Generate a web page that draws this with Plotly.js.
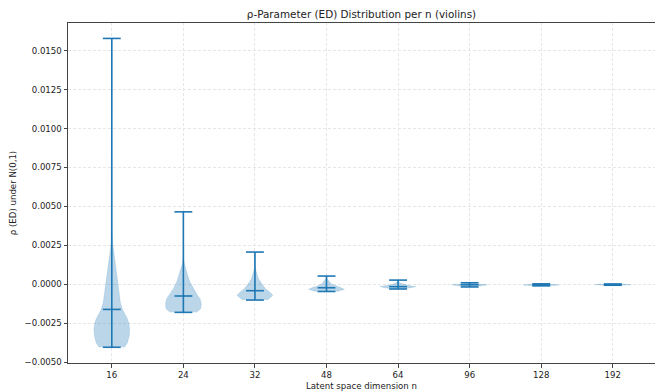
<!DOCTYPE html>
<html>
<head>
<meta charset="utf-8">
<script src="https://cdn.plot.ly/plotly-3.0.1.min.js"></script>
<style>html,body{margin:0;padding:0;background:#fff;}#chart{width:655px;height:392px;}</style>
</head>
<body>
<div id="chart"></div>
<script>
// Categories (latent space dimension n)
const categories = ["16", "24", "32", "48", "64", "96", "128", "192"];

// Summary statistics per n
const minVals    = [-0.00404, -0.00180, -0.00101, -0.00046, -0.00030, -0.00017, -0.00010, -0.00006];
const maxVals    = [ 0.01578,  0.00465,  0.00207,  0.00053,  0.00027,  0.00010,  0.00003,  0.00002];
const medianVals = [-0.00161, -0.00075, -0.00041, -0.00022, -0.00015, -0.00003, -0.00003, -0.00002];

// Density profiles (levels and relative density, peak = 1)
const levels16 = [-0.00404, -0.00374, -0.00330, -0.00290, -0.00250, -0.00224, -0.00192, -0.00160, -0.00118, -0.00053, 0.0, 0.00075, 0.00139, 0.00203, 0.00267, 0.00331, 0.0045, 0.0070, 0.01578];
const dens16   = [0.71, 0.88, 0.97, 1.0, 0.95, 0.88, 0.74, 0.59, 0.48, 0.40, 0.35, 0.27, 0.18, 0.10, 0.045, 0.016, 0.006, 0.003, 0.001];
const levels24 = [-0.00180, -0.00156, -0.00124, -0.00092, -0.00071, -0.00028, 0.00015, 0.00058, 0.00100, 0.00132, 0.00165, 0.0022, 0.0030, 0.00465];
const dens24   = [0.74, 0.97, 1.0, 0.93, 0.78, 0.56, 0.37, 0.24, 0.13, 0.056, 0.02, 0.008, 0.003, 0.001];
const levels32 = [-0.00101, -0.00092, -0.00071, -0.00049, -0.00028, -0.00006, 0.00015, 0.00036, 0.00058, 0.00079, 0.0010, 0.0013, 0.00207];
const dens32   = [0.70, 0.78, 1.0, 0.82, 0.59, 0.44, 0.30, 0.20, 0.13, 0.076, 0.03, 0.01, 0.002];
const levels48 = [-0.00046, -0.00041, -0.00032, -0.00019, -0.00009, 0.00002, 0.00013, 0.00024, 0.00038, 0.00053];
const dens48   = [0.60, 0.74, 1.0, 0.74, 0.46, 0.28, 0.19, 0.09, 0.02, 0.005];
const levels64 = [-0.00030, -0.00022, -0.00015, -0.00008, 0.0, 0.00008, 0.00016, 0.00027];
const dens64   = [0.30, 0.70, 1.0, 0.60, 0.30, 0.12, 0.04, 0.01];
const levels96 = [-0.00017, -0.00010, -0.00003, 0.00003, 0.00010];
const dens96   = [0.20, 0.60, 1.0, 0.40, 0.10];
const levels128 = [-0.00010, -0.00005, -0.00002, 0.00003];
const dens128   = [0.30, 1.0, 0.80, 0.20];
const levels192 = [-0.00006, -0.00003, 0.0, 0.00002];
const dens192   = [0.40, 1.0, 0.70, 0.30];

// Y tick labels
const yTickVals = [-0.005, -0.0025, 0, 0.0025, 0.005, 0.0075, 0.01, 0.0125, 0.015];
const yTickText = ["\u22120.0050", "\u22120.0025", "0.0000", "0.0025", "0.0050", "0.0075", "0.0100", "0.0125", "0.0150"];

const profiles = [
  [levels16, dens16], [levels24, dens24], [levels32, dens32], [levels48, dens48],
  [levels64, dens64], [levels96, dens96], [levels128, dens128], [levels192, dens192]
];

const BLUE = "#1f77b4";
const FILL = "rgba(31,119,180,0.3)";
const HALF = 0.25;      // max half width of a violin body
const CAP = 0.125;      // half width of extrema / median lines

const traces = [];
profiles.forEach((p, i) => {
  const pos = i + 1;
  const lv = p[0], dn = p[1];
  const xs = [], ys = [];
  for (let k = 0; k < lv.length; k++) { xs.push(pos + dn[k] * HALF); ys.push(lv[k]); }
  for (let k = lv.length - 1; k >= 0; k--) { xs.push(pos - dn[k] * HALF); ys.push(lv[k]); }
  traces.push({
    type: "scatter", mode: "lines", x: xs, y: ys, fill: "toself",
    fillcolor: FILL, line: {color: "rgba(31,119,180,0.25)", width: 0.6},
    hoverinfo: "skip", showlegend: false
  });
});

const lx = [], ly = [];
categories.forEach((c, i) => {
  const pos = i + 1;
  lx.push(pos, pos, null); ly.push(minVals[i], maxVals[i], null);
  [minVals[i], maxVals[i], medianVals[i]].forEach(v => {
    lx.push(pos - CAP, pos + CAP, null); ly.push(v, v, null);
  });
});
traces.push({
  type: "scatter", mode: "lines", x: lx, y: ly,
  line: {color: BLUE, width: 1.6}, hoverinfo: "skip", showlegend: false
});

const font = {family: "DejaVu Sans, sans-serif", size: 8.6, color: "#222"};

const layout = {
  width: 655, height: 392,
  margin: {l: 68, r: 0, t: 23, b: 29, pad: 0},
  paper_bgcolor: "#fff", plot_bgcolor: "#fff",
  font: font,
  showlegend: false,
  title: {
    text: "\u03c1-Parameter (ED) Distribution per n (violins)",
    font: {family: "DejaVu Sans, sans-serif", size: 10.4, color: "#222"},
    x: 0.5, xref: "paper", xanchor: "center",
    y: 1, yref: "paper", yanchor: "bottom", pad: {b: 5}
  },
  xaxis: {
    range: [0.388, 8.59],
    tickvals: categories.map((c, i) => i + 1),
    ticktext: categories,
    showgrid: true, gridcolor: "#e6e6e6", griddash: "3px,2px", gridwidth: 1,
    zeroline: false,
    showline: true, linecolor: "#444", linewidth: 1, mirror: true,
    ticks: "outside", ticklen: 3.5, tickwidth: 1, tickcolor: "#444",
    tickfont: font,
    title: {text: "Latent space dimension n", font: font, standoff: 4}
  },
  yaxis: {
    range: [-0.00505, 0.01677],
    tickvals: yTickVals, ticktext: yTickText,
    showgrid: true, gridcolor: "#e6e6e6", griddash: "3px,2px", gridwidth: 1,
    zeroline: false,
    showline: true, linecolor: "#444", linewidth: 1, mirror: true,
    ticks: "outside", ticklen: 3.5, tickwidth: 1, tickcolor: "#444",
    tickfont: font,
    title: {text: "\u03c1 (ED) under N(0,1)", font: font, standoff: 6}
  }
};

Plotly.newPlot("chart", traces, layout, {staticPlot: true, displayModeBar: false});
</script>
</body>
</html>
